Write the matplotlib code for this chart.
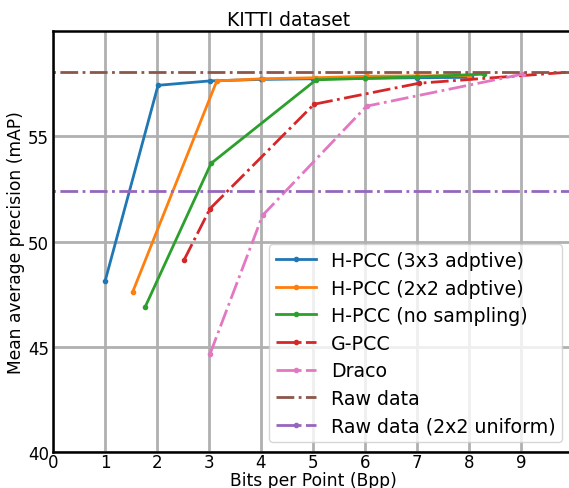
import numpy as np
import matplotlib
matplotlib.use("Agg")
import matplotlib.pyplot as plt

# values (bits per point vs. mAP)
bpp_3x3 = [1.0, 2.02, 3.02, 4.0, 5.0, 6.0, 7.0, 8.03]
map_3x3 = [48.1, 57.42, 57.63, 57.7, 57.73, 57.75, 57.78, 57.8]

bpp_2x2 = [1.53, 3.15, 4.03, 5.06, 6.03, 7.0, 8.0]
map_2x2 = [47.59, 57.63, 57.73, 57.78, 57.85, 57.87, 57.88]

bpp_nosamp = [1.77, 3.04, 5.06, 6.0, 7.0, 8.29]
map_nosamp = [46.88, 53.71, 57.68, 57.75, 57.82, 57.95]

bpp_gpcc = [2.52, 3.02, 5.02, 7.04, 10.0]
map_gpcc = [49.12, 51.56, 56.52, 57.52, 58.06]

bpp_draco = [3.02, 4.03, 6.03, 9.03]
map_draco = [44.66, 51.24, 56.43, 57.95]

raw_map = 58.04
raw_2x2_map = 52.4

fig = plt.figure(figsize=(5.69, 4.89), dpi=100)
ax = fig.add_axes([53 / 569, 36 / 489, 520 / 569, 421 / 489])

ax.plot(bpp_3x3, map_3x3, '.-', color='tab:blue', lw=2, label='H-PCC (3x3 adptive)')
ax.plot(bpp_2x2, map_2x2, '.-', color='tab:orange', lw=2, label='H-PCC (2x2 adptive)')
ax.plot(bpp_nosamp, map_nosamp, '.-', color='tab:green', lw=2, label='H-PCC (no sampling)')
ax.plot(bpp_gpcc, map_gpcc, '.-.', color='tab:red', lw=2, label='G-PCC')
ax.plot(bpp_draco, map_draco, '.-.', color='tab:pink', lw=2, label='Draco')
ax.plot([-1, 11], [raw_map, raw_map], '-.', color='tab:brown', lw=2, label='Raw data')
ax.plot([-1, 11], [raw_2x2_map, raw_2x2_map], '.-.', color='tab:purple', lw=2,
        label='Raw data (2x2 uniform)')

ax.set_xlim(0, 10)
ax.set_ylim(40, 60)
ax.set_xticks(range(0, 10))
ax.set_yticks([40, 45, 50, 55])
ax.tick_params(length=0, labelsize=12)
ax.tick_params(axis='x', pad=1)
ax.tick_params(axis='y', pad=3)
ax.grid(True, color='#b0b0b0', lw=2)
for s in ax.spines.values():
    s.set_linewidth(1.8)
    s.set_color('black')

ax.set_xlabel('Bits per Point (Bpp)', fontsize=12.3, labelpad=0)
ax.set_ylabel('Mean average precision (mAP)', fontsize=12.3, labelpad=2)
ax.set_title('KITTI dataset', fontsize=13.5, x=(289 - 53) / 520, pad=4)

ax.legend(loc='lower left', bbox_to_anchor=((269 - 53) / 520, 10 / 421), borderaxespad=0,
          fontsize=13.7, handlelength=2.1, labelspacing=0.45, borderpad=0.35)

fig.savefig('out.png', dpi=100)
